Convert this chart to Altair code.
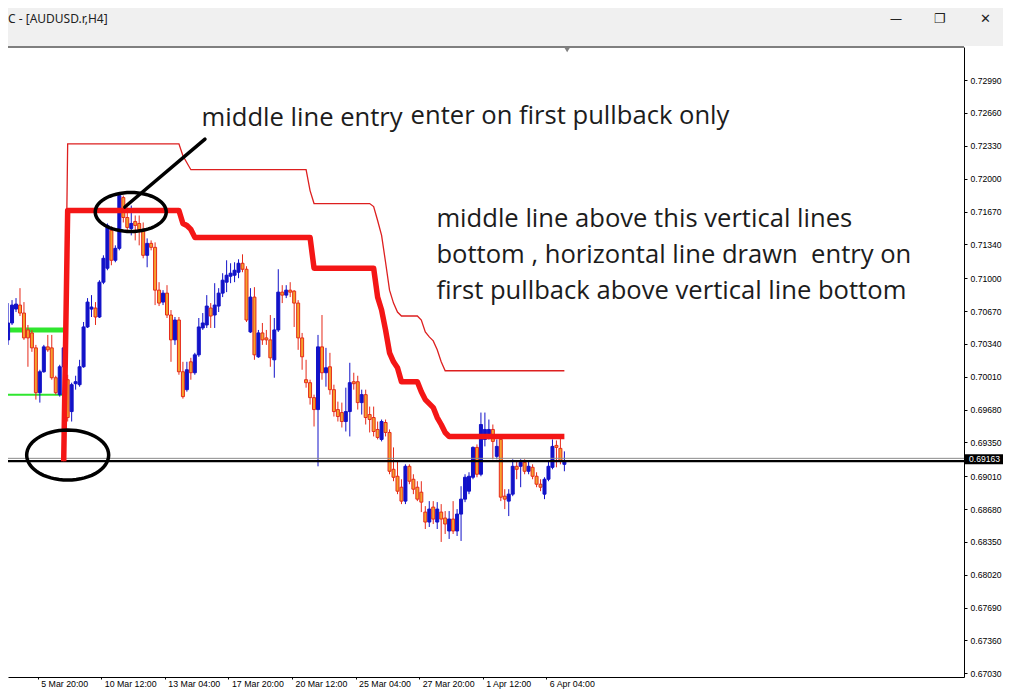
import json
import math
import numpy as np
import pandas as pd
import altair as alt

# ---------------- data ----------------
OPEN = [0.7001, 0.7038, 0.7055, 0.7069, 0.7073, 0.7065, 0.7048, 0.7045, 0.7030, 0.6985,
        0.7006, 0.7031, 0.7030, 0.7000, 0.6983, 0.7011, 0.6998, 0.6966, 0.6994, 0.6993,
        0.7011, 0.7051, 0.7069, 0.7070, 0.7061, 0.7096, 0.7110, 0.7148, 0.7118, 0.7130,
        0.7181, 0.7161, 0.7150, 0.7157, 0.7155, 0.7148, 0.7123, 0.7135, 0.7131, 0.7088,
        0.7076, 0.7085, 0.7063, 0.7038, 0.7058, 0.7006, 0.6988, 0.7016, 0.7005, 0.7023,
        0.7050, 0.7053, 0.7070, 0.7063, 0.7072, 0.7085, 0.7096, 0.7102, 0.7103, 0.7106,
        0.7115, 0.7109, 0.7046, 0.7081, 0.7021, 0.7045, 0.7040, 0.7038, 0.7018, 0.7048,
        0.7086, 0.7083, 0.7088, 0.7087, 0.7075, 0.7040, 0.6998, 0.6995, 0.6980, 0.6968,
        0.7031, 0.7005, 0.7011, 0.6988, 0.6968, 0.6965, 0.6956, 0.6966, 0.6996, 0.6996,
        0.6975, 0.6983, 0.6963, 0.6960, 0.6948, 0.6938, 0.6955, 0.6945, 0.6908, 0.6901,
        0.6890, 0.6876, 0.6911, 0.6898, 0.6890, 0.6885, 0.6865, 0.6855, 0.6870, 0.6855,
        0.6865, 0.6859, 0.6846, 0.6858, 0.6846, 0.6863, 0.6878, 0.6886, 0.6900, 0.6930,
        0.6903, 0.6938, 0.6941, 0.6948, 0.6921, 0.6938, 0.6881, 0.6876, 0.6883, 0.6911,
        0.6911, 0.6915, 0.6906, 0.6910, 0.6901, 0.6893, 0.6883, 0.6898, 0.6910, 0.6932,
        0.6929, 0.6913]
HIGH = [0.7043, 0.7075, 0.7078, 0.7080, 0.7090, 0.7076, 0.7053, 0.7048, 0.7033, 0.7008,
        0.7033, 0.7043, 0.7043, 0.7002, 0.7013, 0.7032, 0.7003, 0.6995, 0.7002, 0.7018,
        0.7056, 0.7080, 0.7083, 0.7076, 0.7098, 0.7123, 0.7155, 0.7152, 0.7133, 0.7185,
        0.7183, 0.7171, 0.7173, 0.7163, 0.7163, 0.7156, 0.7140, 0.7138, 0.7136, 0.7096,
        0.7088, 0.7093, 0.7068, 0.7061, 0.7061, 0.7016, 0.7016, 0.7020, 0.7025, 0.7060,
        0.7065, 0.7083, 0.7075, 0.7095, 0.7090, 0.7105, 0.7118, 0.7115, 0.7116, 0.7119,
        0.7124, 0.7112, 0.7090, 0.7091, 0.7048, 0.7055, 0.7048, 0.7063, 0.7060, 0.7109,
        0.7093, 0.7093, 0.7096, 0.7088, 0.7078, 0.7045, 0.7018, 0.6998, 0.6983, 0.7043,
        0.7063, 0.7030, 0.7025, 0.6993, 0.6976, 0.6975, 0.6990, 0.7015, 0.7005, 0.7002,
        0.6988, 0.6988, 0.6971, 0.6971, 0.6956, 0.6958, 0.6958, 0.6948, 0.6930, 0.6916,
        0.6898, 0.6913, 0.6913, 0.6903, 0.6896, 0.6896, 0.6871, 0.6876, 0.6876, 0.6875,
        0.6873, 0.6866, 0.6866, 0.6876, 0.6868, 0.6891, 0.6903, 0.6905, 0.6931, 0.6933,
        0.6965, 0.6965, 0.6958, 0.6953, 0.6938, 0.6941, 0.6888, 0.6888, 0.6918, 0.6916,
        0.6918, 0.6918, 0.6916, 0.6913, 0.6905, 0.6898, 0.6900, 0.6916, 0.6938, 0.6937,
        0.6939, 0.6926]
LOW = [0.6998, 0.7033, 0.7053, 0.7066, 0.7062, 0.7038, 0.7011, 0.7026, 0.6978, 0.6975,
       0.7005, 0.7026, 0.6998, 0.6983, 0.6981, 0.7008, 0.6956, 0.6956, 0.6988, 0.6991,
       0.7010, 0.7050, 0.7061, 0.7053, 0.7060, 0.7094, 0.7108, 0.7113, 0.7116, 0.7128,
       0.7156, 0.7146, 0.7143, 0.7138, 0.7133, 0.7120, 0.7111, 0.7128, 0.7073, 0.7072,
       0.7073, 0.7060, 0.7016, 0.7033, 0.7003, 0.6979, 0.6986, 0.6998, 0.7003, 0.7021,
       0.7048, 0.7050, 0.7050, 0.7050, 0.7066, 0.7081, 0.7086, 0.7095, 0.7096, 0.7100,
       0.7106, 0.7056, 0.7045, 0.7018, 0.7020, 0.7033, 0.7033, 0.7011, 0.7000, 0.7046,
       0.7075, 0.7080, 0.7081, 0.7051, 0.7028, 0.7008, 0.6990, 0.6973, 0.6951, 0.6911,
       0.6998, 0.6991, 0.6983, 0.6961, 0.6956, 0.6950, 0.6946, 0.6941, 0.6988, 0.6968,
       0.6963, 0.6953, 0.6945, 0.6941, 0.6938, 0.6936, 0.6941, 0.6903, 0.6896, 0.6883,
       0.6873, 0.6873, 0.6893, 0.6883, 0.6876, 0.6865, 0.6848, 0.6850, 0.6853, 0.6848,
       0.6835, 0.6843, 0.6838, 0.6843, 0.6841, 0.6836, 0.6875, 0.6883, 0.6898, 0.6900,
       0.6901, 0.6931, 0.6938, 0.6918, 0.6918, 0.6876, 0.6868, 0.6861, 0.6881, 0.6898,
       0.6890, 0.6903, 0.6903, 0.6898, 0.6890, 0.6886, 0.6878, 0.6896, 0.6908, 0.6910,
       0.6913, 0.6906]
CLOSE = [0.7041, 0.7055, 0.7073, 0.7074, 0.7065, 0.7040, 0.7040, 0.7030, 0.6985, 0.7006,
         0.7031, 0.7028, 0.7000, 0.6985, 0.7011, 0.7030, 0.6960, 0.6993, 0.6996, 0.7011,
         0.7051, 0.7076, 0.7071, 0.7061, 0.7096, 0.7120, 0.7153, 0.7118, 0.7130, 0.7183,
         0.7161, 0.7151, 0.7155, 0.7153, 0.7148, 0.7123, 0.7135, 0.7131, 0.7088, 0.7075,
         0.7085, 0.7063, 0.7038, 0.7058, 0.7006, 0.6981, 0.7008, 0.7005, 0.7023, 0.7051,
         0.7055, 0.7072, 0.7062, 0.7073, 0.7085, 0.7098, 0.7103, 0.7105, 0.7108, 0.7115,
         0.7109, 0.7058, 0.7081, 0.7023, 0.7045, 0.7038, 0.7038, 0.7020, 0.7048, 0.7086,
         0.7083, 0.7088, 0.7086, 0.7075, 0.7040, 0.7021, 0.6995, 0.6980, 0.6968, 0.7031,
         0.7005, 0.7010, 0.6988, 0.6966, 0.6961, 0.6956, 0.6966, 0.6995, 0.6994, 0.6975,
         0.6983, 0.6960, 0.6958, 0.6946, 0.6940, 0.6956, 0.6945, 0.6906, 0.6900, 0.6886,
         0.6876, 0.6911, 0.6896, 0.6888, 0.6878, 0.6875, 0.6855, 0.6868, 0.6858, 0.6868,
         0.6858, 0.6853, 0.6858, 0.6846, 0.6863, 0.6878, 0.6900, 0.6901, 0.6930, 0.6903,
         0.6953, 0.6948, 0.6948, 0.6936, 0.6931, 0.6880, 0.6878, 0.6883, 0.6911, 0.6908,
         0.6915, 0.6906, 0.6911, 0.6901, 0.6893, 0.6890, 0.6898, 0.6911, 0.6931, 0.6930,
         0.6916, 0.69163]

LINE_START = 15  # first bar of the red channel lines
MID_LINE = ([0.6916] + [0.7168] * 29 + [0.7155, 0.7153, 0.7149] + [0.7141] * 30 +
            [0.7110] * 16 + [0.7081, 0.7068, 0.7048, 0.7025, 0.7016, 0.7010] +
            [0.6996] * 5 + [0.6986, 0.6978, 0.6974, 0.6970, 0.6960, 0.6953, 0.6945] +
            [0.6941] * 30)
UPPER_LINE = ([0.6916] + [0.7235] * 29 + [0.7223, 0.7216] + [0.7209] * 30 + [0.7188] +
              [0.7175] * 15 + [0.7172, 0.7158, 0.7143, 0.7116, 0.7088, 0.7075, 0.7066] +
              [0.7062] * 5 + [0.7058, 0.7046, 0.7041, 0.7037, 0.7028, 0.7016] +
              [0.7007] * 31)
GREEN_BARS = [0, 15]
GREEN_THICK = 0.7048
GREEN_THIN = 0.6983

BID = 0.69163
HLINE = 0.69190

Y_TICKS = [0.72990, 0.72660, 0.72330, 0.72000, 0.71670, 0.71340, 0.71000, 0.70670,
           0.70340, 0.70010, 0.69680, 0.69350, 0.69010, 0.68680, 0.68350, 0.68020,
           0.67690, 0.67360, 0.67030]
TICK_LABELS = ["3 Mar 04:00", "5 Mar 20:00", "10 Mar 12:00", "13 Mar 04:00",
               "17 Mar 20:00", "20 Mar 12:00", "25 Mar 04:00", "27 Mar 20:00",
               "1 Apr 12:00", "6 Apr 04:00"]
TICK_FIRST = -7.54
TICK_STEP = 16

# annotations (bar index, price)
ELLIPSES = [  # centre bar, centre price, half width px, half height px
    (31.87, 0.71665, 35.5, 19.5),
    (16.0, 0.69223, 41.0, 25.0),
]
ARROW = (50.55, 0.72398, 30.38, 0.71715)
NOTES = [
    ("middle line entry", 49.7, 0.72529),
    ("enter on first pullback only", 102.3, 0.72549),
    ("middle line above this vertical lines", 108.8, 0.71514),
    ("bottom , horizontal line drawn\u00a0 entry on", 108.8, 0.71152),
    ("first pullback above vertical line bottom", 108.8, 0.70791),
]

# ---------------- styling ----------------
W, H = 956, 630
RIGHT_PAD = 39
BLUE = "#1212c8"
RED = "#e62a1a"
ORANGE = "#f5a12e"
LINE_RED = "#f41616"

XS = alt.Scale(domain=[2.241, 240.31], nice=False, zero=False)
YS = alt.Scale(domain=[0.66993, 0.73323], nice=False, zero=False)
tick_vals = [TICK_FIRST + TICK_STEP * k for k in range(len(TICK_LABELS))]
XA = alt.Axis(values=tick_vals, title=None, grid=False, orient="bottom",
              labelExpr=f"{json.dumps(TICK_LABELS)}[round((datum.value - ({TICK_FIRST})) / {TICK_STEP})]",
              labelAlign="left", labelBaseline="top", labelOffset=3, labelPadding=0,
              tickSize=2, labelFlush=False, labelOverlap=False,
              labelFont="Liberation Sans", labelFontSize=8.8, labelColor="#000",
              domainColor="#000", tickColor="#000")
YA = alt.Axis(values=Y_TICKS, title=None, grid=False, orient="right", format=".5f",
              tickSize=3, labelPadding=3, labelOverlap=False, labelFlush=False,
              labelFont="Liberation Sans", labelFontSize=8.6, labelColor="#000",
              domainColor="#000", tickColor="#000")


def X(f):
    return alt.X(f"{f}:Q", scale=XS, axis=XA)


def Y(f):
    return alt.Y(f"{f}:Q", scale=YS, axis=YA)


# ---------------- frames ----------------
n = len(OPEN)
cd = pd.DataFrame({"i": np.arange(n), "o": OPEN, "h": HIGH, "l": LOW, "c": CLOSE})
up = cd["c"] >= cd["o"]
cd["wick"] = np.where(up, BLUE, RED)
cd["fill"] = np.where(up, BLUE, ORANGE)

mid = pd.DataFrame({"i": np.arange(LINE_START, LINE_START + len(MID_LINE)), "v": MID_LINE})
upper = pd.DataFrame({"i": np.arange(LINE_START, LINE_START + len(UPPER_LINE)), "v": UPPER_LINE})
green_thick = pd.DataFrame({"i": GREEN_BARS, "v": [GREEN_THICK] * 2})
green_thin = pd.DataFrame({"i": GREEN_BARS, "v": [GREEN_THIN] * 2})
hl = pd.DataFrame({"v": [HLINE, BID], "col": ["#8a8a8a", "#000000"], "w": [1.0, 2.2]})

wicks = alt.Chart(cd).mark_rule(clip=True, strokeWidth=1).encode(
    x=X("i"), y=Y("l"), y2="h", color=alt.Color("wick:N", scale=None))
bodies = alt.Chart(cd).mark_bar(clip=True, size=3, strokeWidth=1).encode(
    x=X("i"), y=Y("o"), y2="c",
    fill=alt.Fill("fill:N", scale=None), stroke=alt.Stroke("wick:N", scale=None))

g1 = alt.Chart(green_thick).mark_line(clip=True, color="#2fe62f", strokeWidth=5).encode(x=X("i"), y=Y("v"))
g2 = alt.Chart(green_thin).mark_line(clip=True, color="#2fe62f", strokeWidth=2).encode(x=X("i"), y=Y("v"))

hrules = alt.Chart(hl).mark_rule().encode(
    y=Y("v"), color=alt.Color("col:N", scale=None), strokeWidth=alt.StrokeWidth("w:Q", scale=None))

thin_red = alt.Chart(upper).mark_line(clip=True, color="#dd1f1f", strokeWidth=1.3).encode(x=X("i"), y=Y("v"))
thick_red = alt.Chart(mid).mark_line(clip=True, color=LINE_RED, strokeWidth=5.5,
                                     strokeJoin="round").encode(x=X("i"), y=Y("v"))


def ellipse_path(ratio, k=60):
    pts = []
    for j in range(k):
        t = 2 * math.pi * j / k
        pts.append(f"{math.cos(t):.4f} {ratio * math.sin(t):.4f}")
    return "M " + " L ".join(pts) + " Z"


ell_layers = []
for (ci, cp, rx, ry) in ELLIPSES:
    edf = pd.DataFrame({"i": [ci], "v": [cp]})
    ell_layers.append(
        alt.Chart(edf).mark_point(shape=ellipse_path(ry / rx), size=4 * rx * rx, filled=False,
                                  stroke="#000", strokeWidth=3.5, opacity=1).encode(x=X("i"), y=Y("v")))

adf = pd.DataFrame({"i": [ARROW[0]], "v": [ARROW[1]], "i2": [ARROW[2]], "v2": [ARROW[3]]})
arrow = alt.Chart(adf).mark_rule(stroke="#000", strokeWidth=3.5, strokeCap="round").encode(
    x=X("i"), y=Y("v"), x2="i2", y2="v2")

ndf = pd.DataFrame(NOTES, columns=["t", "i", "v"])
notes = alt.Chart(ndf).mark_text(align="left", baseline="alphabetic", font="Open Sans",
                                 fontSize=25.6, color="#1c1c1c").encode(x=X("i"), y=Y("v"), text="t:N")

# price label box on the axis
bdf = pd.DataFrame({"v": [0.69130], "v2": [0.69230], "vm": [0.69180], "t": [f"{BID:.5f}"]})
box = alt.Chart(bdf).mark_rect(color="#000").encode(
    x=alt.value(W + 1), x2=alt.value(W + RIGHT_PAD), y=Y("v"), y2="v2")
box_txt = alt.Chart(bdf).mark_text(align="left", baseline="middle", color="#fff",
                                   font="Liberation Sans", fontSize=8.6).encode(
    x=alt.value(W + 5), y=Y("vm"), text="t:N")

# window chrome above the chart
chrome_df = pd.DataFrame({"a": [0]})
chrome = alt.Chart(chrome_df).mark_rect(color="#f0f0f0").encode(
    x=alt.value(-8), x2=alt.value(W + RIGHT_PAD), y=alt.value(-39), y2=alt.value(-1))
top_line = alt.Chart(chrome_df).mark_rule(color="#000", strokeWidth=1.2).encode(
    x=alt.value(-8), x2=alt.value(W), y=alt.value(0))
CHROME_TEXT = [("C - [AUDUSD.r,H4]", 0, -28, 12), ("—", 882, -28, 12),
               ("❐", 926, -28, 13), ("✕", 972, -28, 13)]
ct = pd.DataFrame(CHROME_TEXT, columns=["t", "x", "y", "s"])
chrome_txt = alt.Chart(ct).mark_text(baseline="middle", align="left", font="Noto Sans",
                                     color="#222").encode(
    x=alt.X("x:Q", scale=None), y=alt.Y("y:Q", scale=None), text="t:N",
    size=alt.Size("s:Q", scale=None))

mdf = pd.DataFrame({"i": [141.7]})
marker = alt.Chart(mdf).mark_point(shape="triangle-down", filled=True, size=30, color="#808080",
                                   opacity=1).encode(x=X("i"), y=alt.value(3))

chart = alt.layer(
    chrome, chrome_txt, g1, g2, wicks, bodies, hrules, thin_red, thick_red,
    *ell_layers, arrow, notes, box, box_txt, top_line, marker
).properties(
    width=W, height=H,
    padding={"left": 0, "top": 39, "right": RIGHT_PAD, "bottom": 12},
    autosize=alt.AutoSizeParams(type="none"),
    background="#ffffff",
).configure_view(stroke=None)

chart.save("out.html", embed_options={"renderer": "svg", "actions": False})
